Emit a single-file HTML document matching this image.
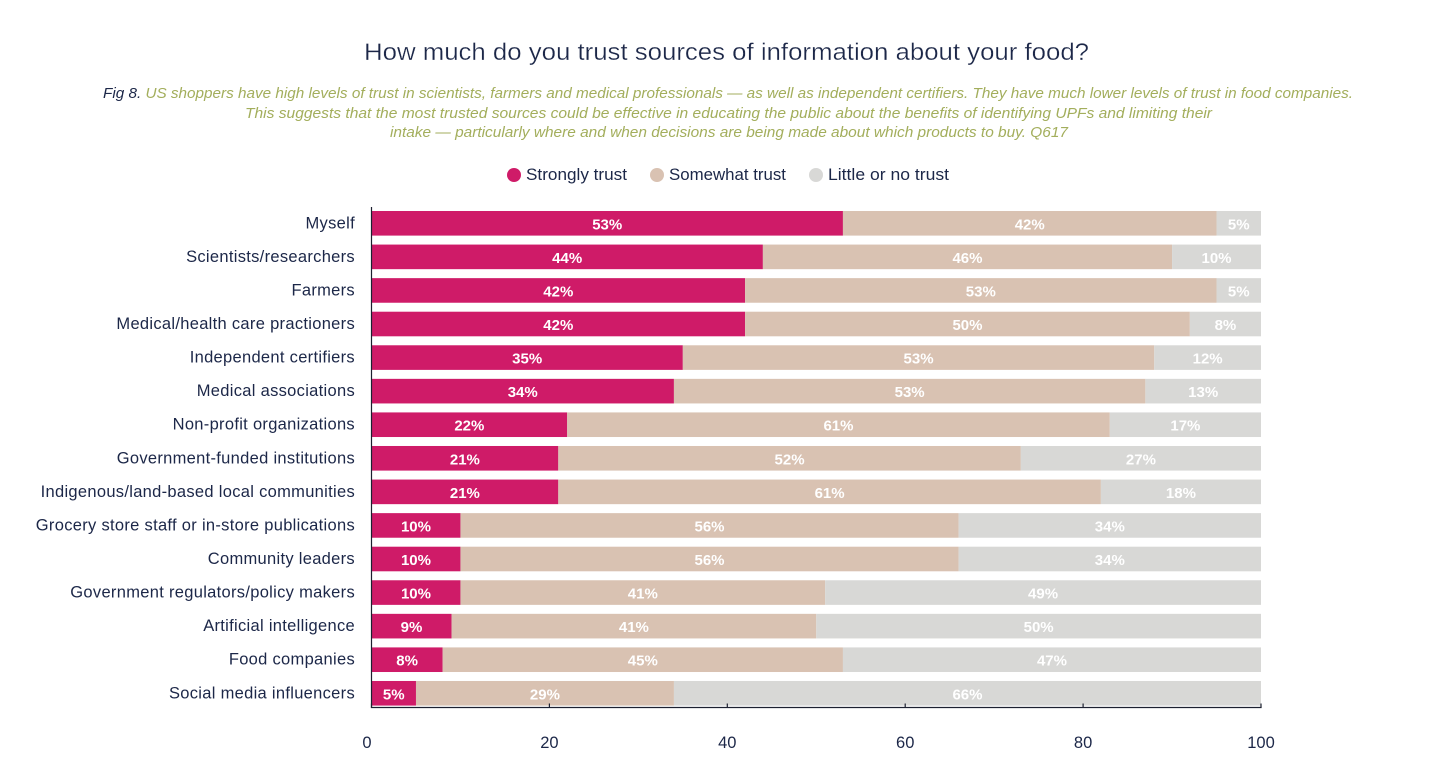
<!DOCTYPE html>
<html lang="en">
<head>
<meta charset="utf-8">
<title>How much do you trust sources of information about your food?</title>
<style>
  html, body { margin: 0; padding: 0; background: #ffffff; }
  body { width: 1456px; height: 773px; overflow: hidden; }
  svg { display: block; }
  text { font-family: "Liberation Sans", Arial, sans-serif; }
</style>
</head>
<body>
<svg id="chart" width="1456" height="773" viewBox="0 0 1456 773" xmlns="http://www.w3.org/2000/svg">
  <text x="726.5" y="60" text-anchor="middle" font-size="24" fill="#1c2748" stroke="#ffffff" stroke-width="0.3" textLength="725" lengthAdjust="spacingAndGlyphs">How much do you trust sources of information about your food?</text>
  <g font-size="14.5" font-style="italic" fill="#a3ae5c">
    <text x="103" y="98" textLength="1250" lengthAdjust="spacingAndGlyphs"><tspan fill="#1c2748">Fig 8.</tspan> US shoppers have high levels of trust in scientists, farmers and medical professionals — as well as independent certifiers. They have much lower levels of trust in food companies.</text>
    <text x="245" y="118" textLength="967" lengthAdjust="spacingAndGlyphs">This suggests that the most trusted sources could be effective in educating the public about the benefits of identifying UPFs and limiting their</text>
    <text x="390" y="137" textLength="678" lengthAdjust="spacingAndGlyphs">intake — particularly where and when decisions are being made about which products to buy. Q617</text>
  </g>
  <g font-size="16.5" fill="#1c2748">
    <g>
      <circle cx="514" cy="175" r="7" fill="#cf1b68"></circle>
      <text x="526" y="180" textLength="101" lengthAdjust="spacingAndGlyphs">Strongly trust</text>
    </g>
    <g>
      <circle cx="657" cy="175" r="7" fill="#d9c2b2"></circle>
      <text x="669" y="180" textLength="117" lengthAdjust="spacingAndGlyphs">Somewhat trust</text>
    </g>
    <g>
      <circle cx="816" cy="175" r="7" fill="#d8d8d6"></circle>
      <text x="828" y="180" textLength="121" lengthAdjust="spacingAndGlyphs">Little or no trust</text>
    </g>
  </g>
  <g id="bars"></g>
  <g id="cats"></g>
  <g id="axes"></g>
</svg>
<script>
const categories = [
  "Myself",
  "Scientists/researchers",
  "Farmers",
  "Medical/health care practioners",
  "Independent certifiers",
  "Medical associations",
  "Non-profit organizations",
  "Government-funded institutions",
  "Indigenous/land-based local communities",
  "Grocery store staff or in-store publications",
  "Community leaders",
  "Government regulators/policy makers",
  "Artificial intelligence",
  "Food companies",
  "Social media influencers"
];
const stronglyTrust = [53, 44, 42, 42, 35, 34, 22, 21, 21, 10, 10, 10, 9, 8, 5];
const somewhatTrust = [42, 46, 53, 50, 53, 53, 61, 52, 61, 56, 56, 41, 41, 45, 29];
const littleOrNoTrust = [5, 10, 5, 8, 12, 13, 17, 27, 18, 34, 34, 49, 50, 47, 66];
const xTicks = [0, 20, 40, 60, 80, 100];

const NS = "http://www.w3.org/2000/svg";
const X0 = 371.5, X1 = 1261, Y_FIRST = 223.3, Y_STEP = 33.57, BAR_H = 24.6;
const xScale = v => X0 + (v / 100) * (X1 - X0);
const yScale = i => Y_FIRST + i * Y_STEP;

function make(tag, attrs, parent) {
  const el = document.createElementNS(NS, tag);
  for (const k in attrs) el.setAttribute(k, attrs[k]);
  parent.appendChild(el);
  return el;
}

const barsG = document.getElementById("bars");
const catsG = document.getElementById("cats");
const axesG = document.getElementById("axes");

const seriesList = [
  { key: "strongly-trust", values: stronglyTrust, fill: "#cf1b68" },
  { key: "somewhat-trust", values: somewhatTrust, fill: "#d9c2b2" },
  { key: "little-or-no-trust", values: littleOrNoTrust, fill: "#d8d8d6" }
];

categories.forEach((cat, i) => {
  const cy = yScale(i);
  const label = make("text", { x: 355, y: cy + 5, "text-anchor": "end", "font-size": 16.5, "letter-spacing": 0.3, fill: "#1c2748" }, catsG);
  label.textContent = cat;
  
  

  let acc = 0;
  seriesList.forEach(s => {
    const v = s.values[i];
    const x = xScale(acc);
    const w = xScale(acc + v) - x;
    const rect = make("rect", { x: x, y: cy - BAR_H / 2, width: w, height: BAR_H, fill: s.fill }, barsG);
    
    
    const t = make("text", { x: x + w / 2, y: cy + 6, "text-anchor": "middle", "font-size": 15, "font-weight": "bold", fill: "#ffffff" }, barsG);
    t.textContent = v + "%";
    
    
    acc += v;
  });
});

const yAxis = make("line", { x1: X0, x2: X0, y1: 207, y2: 707.5, stroke: "#1c2030", "stroke-width": 1.2 }, axesG);



const xAxis = make("line", { x1: X0 - 0.6, x2: X1 + 0.6, y1: 707.5, y2: 707.5, stroke: "#1c2030", "stroke-width": 1.2 }, axesG);



xTicks.forEach(v => {
  const x = xScale(v);
  const tick = make("line", { x1: x, x2: x, y1: 703.5, y2: 707.5, stroke: "#1c2030", "stroke-width": 1.2 }, axesG);
  
  
  const t = make("text", { x: v === 0 ? x - 4.5 : x, y: 748, "text-anchor": "middle", "font-size": 16.5, fill: "#1c2748" }, axesG);
  t.textContent = String(v);
  
  
});
</script>
</body>
</html>
